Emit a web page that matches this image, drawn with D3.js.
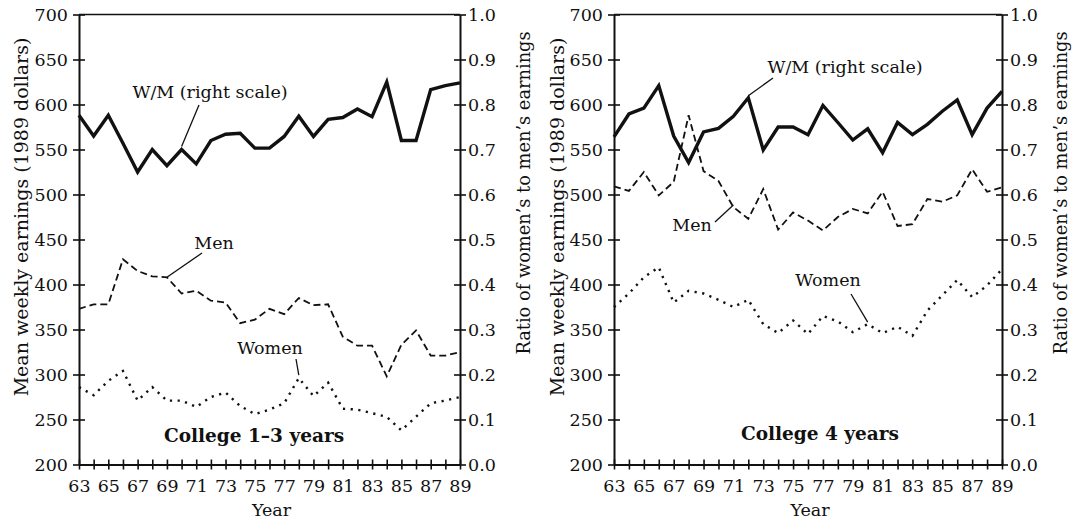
<!DOCTYPE html>
<html>
<head>
<meta charset="utf-8">
<script src="https://cdn.jsdelivr.net/npm/d3@7"></script>
<style>
  body { margin: 0; background: #fff; }
  text { font-family: "DejaVu Serif", serif; fill: #111; }
</style>
</head>
<body>
<svg id="chart" width="1076" height="520"></svg>
<script>
// years on the x axis (19xx)
const years = [63,64,65,66,67,68,69,70,71,72,73,74,75,76,77,78,79,80,81,82,83,84,85,86,87,88,89]
const xTickLabels = [63,65,67,69,71,73,75,77,79,81,83,85,87,89]
const earningsTicks = [200,250,300,350,400,450,500,550,600,650,700]
const ratioTicks = [0.0,0.1,0.2,0.3,0.4,0.5,0.6,0.7,0.8,0.9,1.0]

// College 1-3 years
const wmCollege13 = [0.776,0.730,0.776,0.714,0.650,0.700,0.664,0.700,0.668,0.720,0.734,0.736,0.703,
	0.703,0.729,0.774,0.729,0.767,0.771,0.790,0.773,0.850,0.720,0.720,0.833,0.842,0.848]
const menCollege13 = [373,378,378,428,415,409,408,390,393,382,380,357,361,373,367,385,377,378,
	342,332,332,298,333,349,321,321,325]
const womenCollege13 = [286,277,293,304,271,286,271,271,264,275,280,265,256,261,268,296,276,291,
	262,261,257,253,238,253,268,271,275]

// College 4 years
const wmCollege4 = [0.728,0.779,0.792,0.842,0.730,0.671,0.739,0.747,0.774,0.815,0.699,0.750,0.750,
	0.733,0.798,0.760,0.721,0.746,0.693,0.760,0.733,0.756,0.785,0.810,0.733,0.792,0.829]
const menCollege4 = [509,504,525,499,514,588,526,515,486,473,506,461,480,471,460,475,484,479,
	503,465,467,495,492,499,528,503,508]
const womenCollege4 = [375,390,408,419,380,393,390,383,375,383,356,346,360,345,365,359,347,356,
	346,353,343,371,388,405,386,399,417]

const svg = d3.select('#chart')
const plotTop = 14.5, plotBottom = 464.5

const panels = [
	{x0: 79, x1: 460, title: 'College 1\u20133 years', titleX: 254, titleY: 442,
	 wm: wmCollege13, men: menCollege13, women: womenCollege13,
	 leftLabelX: 21, leftLabelY: 217, rightLabelX: 524, rightLabelY: 193,
	 notes: [
		{text: 'W/M (right scale)', tx: 210, ty: 98, from: [199,105], series: 'wm', year: 70, gap: 3},
		{text: 'Men', tx: 214, ty: 249, from: [202,253], series: 'men', year: 69, gap: 0},
		{text: 'Women', tx: 270, ty: 354, from: [296,359], series: 'women', year: 78, gap: 3}
	 ]},
	{x0: 614, x1: 1002, title: 'College 4 years', titleX: 820, titleY: 440,
	 wm: wmCollege4, men: menCollege4, women: womenCollege4,
	 leftLabelX: 557, leftLabelY: 217, rightLabelX: 1061, rightLabelY: 193,
	 notes: [
		{text: 'W/M (right scale)', tx: 845, ty: 73, from: [773,78], series: 'wm', year: 72, gap: 2},
		{text: 'Men', tx: 692, ty: 231, from: [715,222], series: 'men', year: 71, gap: 2},
		{text: 'Women', tx: 828, ty: 286, from: [851,294], series: 'women', year: 80, gap: 2}
	 ]}
]

const drawPanel = (p) => {
	const x = d3.scaleLinear().domain([63, 89]).range([p.x0, p.x1])
	const y = d3.scaleLinear().domain([200, 700]).range([plotBottom, plotTop])
	const yr = d3.scaleLinear().domain([0, 1]).range([plotBottom, plotTop])

	const g = svg.append('g')

	// left axis
	const la = g.append('g')
		.attr('transform', `translate(${p.x0},0)`)
		.call(d3.axisLeft(y).tickValues(earningsTicks).tickSizeInner(6).tickSizeOuter(0).tickPadding(5))
	la.selectAll('.tick line').attr('x1', 6)
	// right axis
	const ra = g.append('g')
		.attr('transform', `translate(${p.x1},0)`)
		.call(d3.axisRight(yr).tickValues(ratioTicks).tickFormat(d3.format('.1f'))
			.tickSizeInner(6).tickSizeOuter(0).tickPadding(2))
	ra.selectAll('.tick line').attr('x1', -6)
	// bottom axis
	const ba = g.append('g')
		.attr('transform', `translate(0,${plotBottom})`)
		.call(d3.axisBottom(x).tickValues(years).tickSizeInner(5).tickSizeOuter(0).tickPadding(10)
			.tickFormat(d => xTickLabels.includes(d) ? d : ''))
	ba.selectAll('.tick line').attr('y1', -5)

	g.selectAll('.domain').attr('stroke', '#111').attr('stroke-width', 2)
	g.selectAll('.tick line').attr('stroke', '#111').attr('stroke-width', 1.6)
	g.selectAll('.tick text').style('font-size', '17.5px').attr('fill', '#111')

	// top frame
	g.append('line')
		.attr('x1', p.x0).attr('x2', p.x1)
		.attr('y1', plotTop).attr('y2', plotTop)
		.attr('stroke', '#111').attr('stroke-width', 1.5)

	// axis titles
	g.append('text')
		.attr('transform', `translate(${p.leftLabelX},${p.leftLabelY}) rotate(-90)`)
		.attr('text-anchor', 'middle').attr('dy', '0.35em')
		.style('font-size', '19px')
		.text('Mean weekly earnings (1989 dollars)')
	g.append('text')
		.attr('transform', `translate(${p.rightLabelX},${p.rightLabelY}) rotate(-90)`)
		.attr('text-anchor', 'middle').attr('dy', '0.35em')
		.style('font-size', '17.8px')
		.text('Ratio of women\u2019s to men\u2019s earnings')
	g.append('text')
		.attr('x', (p.x0 + p.x1) / 2 + 2).attr('y', 516)
		.attr('text-anchor', 'middle')
		.style('font-size', '17.5px')
		.text('Year')

	// lines
	const lineE = d3.line().x((d, i) => x(years[i])).y(d => y(d))
	const lineR = d3.line().x((d, i) => x(years[i])).y(d => yr(d))

	g.append('path').datum(p.men)
		.attr('d', lineE).attr('fill', 'none')
		.attr('stroke', '#111').attr('stroke-width', 1.8)
		.attr('stroke-dasharray', '7,4')
	g.append('path').datum(p.women)
		.attr('d', lineE).attr('fill', 'none')
		.attr('stroke', '#111').attr('stroke-width', 2.4)
		.attr('stroke-dasharray', '2.2,5.5')
	g.append('path').datum(p.wm)
		.attr('d', lineR).attr('fill', 'none')
		.attr('stroke', '#111').attr('stroke-width', 3.4)
		.attr('stroke-linejoin', 'miter')

	// annotations with leader lines
	p.notes.forEach(n => {
		const i = years.indexOf(n.year)
		const px = x(n.year)
		const py = n.series === 'wm' ? yr(p.wm[i]) : y(p[n.series][i])
		g.append('text')
			.attr('x', n.tx).attr('y', n.ty)
			.attr('text-anchor', 'middle')
			.style('font-size', '17.5px')
			.text(n.text)
		g.append('line')
			.attr('x1', n.from[0]).attr('y1', n.from[1])
			.attr('x2', px).attr('y2', py - n.gap)
			.attr('stroke', '#111').attr('stroke-width', 1.3)
	})

	g.append('text')
		.attr('x', p.titleX).attr('y', p.titleY)
		.attr('text-anchor', 'middle')
		.style('font-size', '18.5px').style('font-weight', 'bold')
		.text(p.title)
}

panels.forEach(drawPanel)
</script>
</body>
</html>
